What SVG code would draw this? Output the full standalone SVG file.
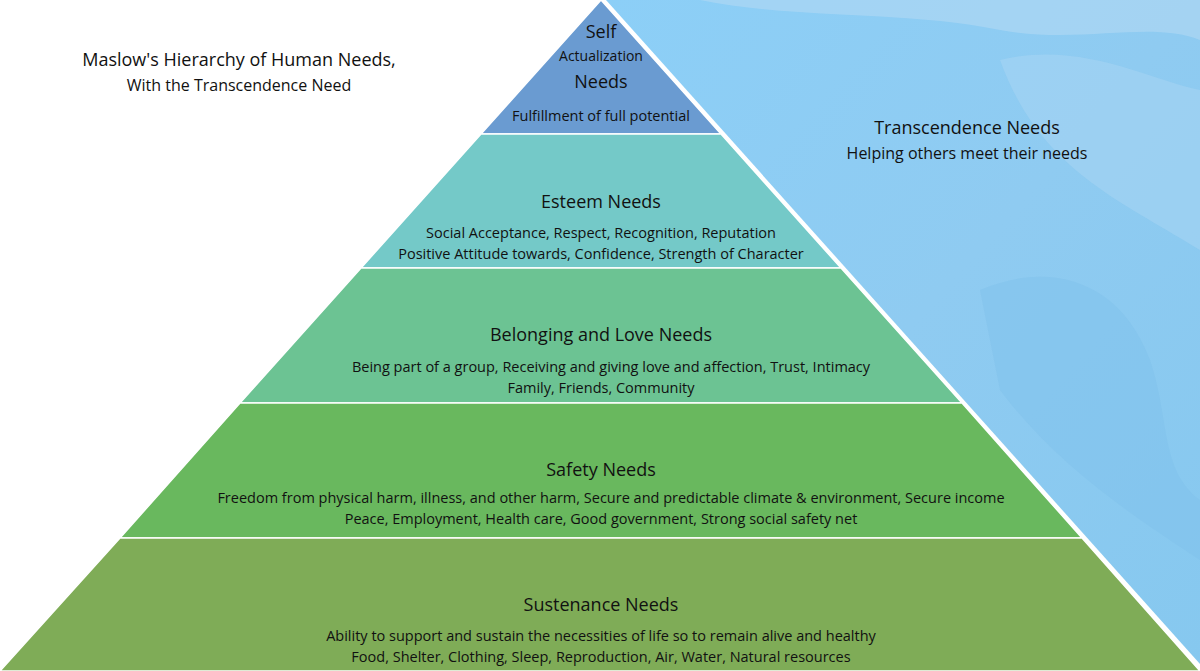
<svg xmlns="http://www.w3.org/2000/svg" width="1200" height="671" viewBox="0 0 1200 671">
<defs>
<linearGradient id="bg" x1="0" y1="0" x2="1" y2="1">
<stop offset="0" stop-color="#8ccff7"/><stop offset="0.5" stop-color="#8fcbf1"/><stop offset="1" stop-color="#86c8ef"/>
</linearGradient>
<style>
text{font-family:"Open Sans","Noto Sans",sans-serif;fill:#111;text-anchor:middle}
.h{font-size:18px}
.b{font-size:14.5px}
.band{stroke:#fff;stroke-width:1.5}
</style>
</defs>
<rect width="1200" height="671" fill="#fff"/>
<g id="transcendence">
<polygon points="606,0 1200,0 1200,664" fill="url(#bg)"/>
<path d="M700,0 C800,20 900,10 1000,30 C1080,45 1150,20 1200,40 L1200,0 Z" fill="#b3d9f4" opacity="0.6"/>
<path d="M980,290 C1050,260 1120,280 1150,360 C1170,420 1160,470 1200,500 L1200,560 C1140,520 1060,470 1000,390 Z" fill="#7fc2ec" opacity="0.5"/>
<path d="M1000,60 C1080,40 1150,80 1200,90 L1200,250 C1120,200 1040,170 1000,60 Z" fill="#a9d6f3" opacity="0.5"/>
<text x="967" y="134" class="h">Transcendence Needs</text>
<text x="967" y="159" class="b" style="font-size:16px">Helping others meet their needs</text>
</g>
<g id="title">
<text x="239" y="66" class="h">Maslow's Hierarchy of Human Needs,</text>
<text x="239" y="91" class="b" style="font-size:16px">With the Transcendence Need</text>
</g>
<g id="self">
<polygon class="band" points="601,0 481,134 721,134" fill="#6a9bd1"/>
<text x="601" y="38" class="h">Self</text>
<text x="601" y="61" class="b" style="font-size:14px">Actualization</text>
<text x="601" y="88" class="h">Needs</text>
<text x="601" y="121" class="b">Fulfillment of full potential</text>
</g>
<g id="esteem">
<polygon class="band" points="481,134 721,134 841,268 361,268" fill="#74c9c8"/>
<text x="601" y="208" class="h">Esteem Needs</text>
<text x="601" y="238" class="b">Social Acceptance, Respect, Recognition, Reputation</text>
<text x="601" y="259" class="b">Positive Attitude towards, Confidence, Strength of Character</text>
</g>
<g id="belonging">
<polygon class="band" points="361,268 841,268 962,403 240,403" fill="#6cc393"/>
<text x="601" y="341" class="h">Belonging and Love Needs</text>
<text x="611" y="372" class="b">Being part of a group, Receiving and giving love and affection, Trust, Intimacy</text>
<text x="601" y="393" class="b">Family,  Friends, Community</text>
</g>
<g id="safety">
<polygon class="band" points="240,403 962,403 1082,538 120,538" fill="#69b85e"/>
<text x="601" y="476" class="h">Safety Needs</text>
<text x="611" y="503" class="b">Freedom from physical harm, illness, and other harm, Secure and predictable climate &amp; environment, Secure income</text>
<text x="601" y="524" class="b">Peace, Employment, Health care, Good government, Strong social safety net</text>
</g>
<g id="sustenance">
<polygon class="band" points="120,538 1082,538 1200,671 0,671" fill="#7fac57"/>
<text x="601" y="611" class="h">Sustenance Needs</text>
<text x="601" y="641" class="b">Ability to support and sustain the necessities of life so to  remain alive and healthy</text>
<text x="601" y="662" class="b">Food, Shelter, Clothing, Sleep, Reproduction, Air, Water, Natural resources</text>
</g>
<g id="connectors"/>
</svg>
